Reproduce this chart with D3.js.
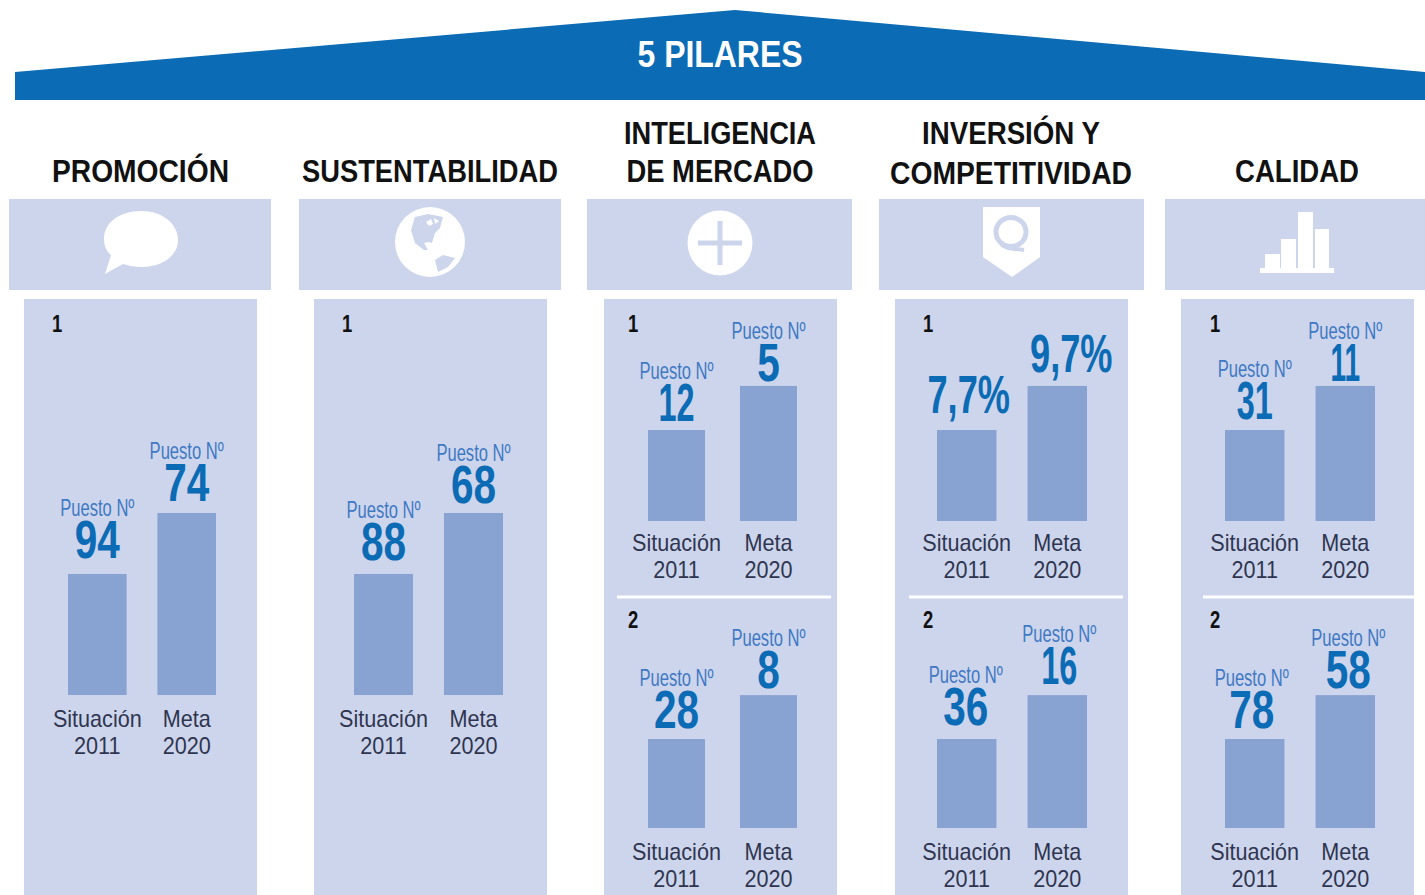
<!DOCTYPE html>
<html>
<head>
<meta charset="utf-8">
<script src="https://cdn.jsdelivr.net/npm/d3@7"></script>
<style>
  html, body { margin: 0; padding: 0; background: #fff; overflow: hidden; }
  svg { display: block; }
  text { font-family: "Liberation Sans", sans-serif; }
</style>
</head>
<body>
<div id="root"></div>
<script>
// data
const titulo = "5 PILARES";
const pilares = [["PROMOCIÓN"], ["SUSTENTABILIDAD"], ["INTELIGENCIA", "DE MERCADO"], ["INVERSIÓN Y", "COMPETITIVIDAD"], ["CALIDAD"]];
const categorias = [["Situación", "2011"], ["Meta", "2020"]];
const puestoLabel = "Puesto Nº";
const valores = [
  [["94", "74"]],
  [["88", "68"]],
  [["12", "5"], ["28", "8"]],
  [["7,7%", "9,7%"], ["36", "16"]],
  [["31", "11"], ["78", "58"]]
];
// bar heights, as % of the tallest bar
const alturas = [
  [[66.5, 100]],
  [[66.5, 100]],
  [[50, 74.2], [48.9, 73]],
  [[50, 74.2], [48.9, 73]],
  [[50, 74.2], [48.9, 73]]
];

// layout
var width = 1425, height = 895;
var azul = "#0b6bb5", panel = "#cdd5ec", barra = "#88a2d2", suave = "#3f79c4";

var headers = [[9, 271], [299, 561], [587, 852], [879, 1144], [1165, 1425]];
var panels = [[24, 257], [314, 547], [604, 837], [895, 1128], [1181, 1414]];
var barRange = [[68, 216], [354, 503], [648, 797], [937, 1087], [1225, 1375]];
var barPadding = [0.344, 0.344, 0.38, 0.344, 0.344];
var titleCx = [140.5, 430, 720, 1011, 1297];
var titleWidths = [[177], [256], [192, 187], [178, 242], [124]];
var baselines = [[695], [695], [521, 828], [521, 828], [521, 828]];
var numberX = [57, 347, 633, 928, 1215];
var numberY = [324, 620];
var dividers = [null, null, [617, 831], [909, 1123], [1203, 1414]];
// gap from value baseline to top of the bar, and nudges of the label centres
var gaps = [
  [[16, 12]],
  [[14, 10]],
  [[9, 5], [11, 7]],
  [[17, 14], [14, 11]],
  [[11, 5], [11, 7]]
];
var nudges = [
  [[0, 0]],
  [[0, 0]],
  [[0, 0], [0, 0]],
  [[2, 14], [-1, 2]],
  [[0, 0], [-3, 3]]
];

var svg = d3.select("#root")
  .append("svg")
  .attr("width", width)
  .attr("height", height);

// squeeze a text horizontally, there is no condensed font here
function fit(sel, w) {
  sel.attr("textLength", w).attr("lengthAdjust", "spacingAndGlyphs");
  return sel;
}
function squeeze(sel, ratio) {
  return fit(sel, sel.node().getComputedTextLength() * ratio);
}
// the 1s of the original font are very thin
function valueRatio(val) {
  if (val.indexOf("%") >= 0) return 0.67;
  if (val == "11") return 0.52;
  if (val.indexOf("1") >= 0) return 0.6;
  return 0.75;
}

// bars height scale
var y = d3.scaleLinear().domain([0, 100]).range([0, 182]);

// roof
svg.append("path")
  .attr("d", "M15,72 L735,10 L1425,72 L1425,100 L15,100 Z")
  .attr("fill", azul);
fit(svg.append("text")
  .attr("x", 720).attr("y", 67)
  .attr("text-anchor", "middle")
  .attr("font-size", 37).attr("font-weight", 700)
  .attr("fill", "#fff")
  .text(titulo), 165);

// header bands and panels
svg.append("g").selectAll("rect")
  .data(headers).enter().append("rect")
  .attr("x", d => d[0]).attr("y", 199)
  .attr("width", d => d[1] - d[0]).attr("height", 91)
  .attr("fill", panel);
svg.append("g").selectAll("rect")
  .data(panels).enter().append("rect")
  .attr("x", d => d[0]).attr("y", 299)
  .attr("width", d => d[1] - d[0]).attr("height", height - 299)
  .attr("fill", panel);

// pillar titles
pilares.forEach(function (lines, i) {
  lines.forEach(function (line, k) {
    var base = lines.length == 1 ? 182 : (k == 0 ? 144 : (i == 3 ? 184 : 182));
    fit(svg.append("text")
      .attr("x", titleCx[i]).attr("y", base)
      .attr("text-anchor", "middle")
      .attr("font-size", 31).attr("font-weight", 700)
      .attr("fill", "#111")
      .text(line), titleWidths[i][k]);
  });
});

// icons
var icons = svg.append("g");
// speech bubble
icons.append("path")
  .attr("fill", "#fff")
  .attr("d", "M141,211 C163,211 178,224 178,240 C178,256 162,267 142,267 C135,267 129,266 123,264 L105,274 L111,255 C106,251 104,245 104,239 C104,223 119,211 141,211 Z");
// globe
icons.append("ellipse")
  .attr("cx", 430).attr("cy", 242).attr("rx", 35).attr("ry", 35)
  .attr("fill", "#fff");
icons.append("path")
  .attr("fill", panel)
  .attr("d", "M415,217 L428,214 L443,217 L440,228 L435,233 L432,243 L428,242 L424,243 L428,250 L424,250 L415,243 L411,230 Z M435,260 L443,255 L455,258 L448,267 L438,272 Z");
icons.append("path")
  .attr("fill", "#fff")
  .attr("d", "M426,222 L431,219 L433,224 L429,226 Z M434,218 L439,221 L435,224 Z");
// plus
icons.append("circle")
  .attr("cx", 720).attr("cy", 243).attr("r", 32.5)
  .attr("fill", "#fff");
icons.append("path")
  .attr("stroke", panel).attr("stroke-width", 5).attr("fill", "none")
  .attr("d", "M698,243 H742 M720,221 V265");
// shield with Q
icons.append("path")
  .attr("fill", "#fff")
  .attr("d", "M983,207 H1040 V257 L1012,277 L983,257 Z");
icons.append("ellipse")
  .attr("cx", 1011).attr("cy", 232).attr("rx", 15).attr("ry", 14.5)
  .attr("fill", "none").attr("stroke", panel).attr("stroke-width", 5);
icons.append("path")
  .attr("fill", "none").attr("stroke", panel).attr("stroke-width", 4)
  .attr("d", "M1001,244 C1007,250 1015,248 1024,250");
// small bars
icons.append("path")
  .attr("fill", "#fff")
  .attr("d", "M1265,254 H1280 V268 H1265 Z M1281,239 H1296 V268 H1281 Z M1298,212 H1313 V268 H1298 Z M1315,229 H1329 V268 H1315 Z M1260,268 H1334 V273 H1260 Z");

// one small chart per pillar row
valores.forEach(function (rows, i) {
  var g = svg.append("g");
  var x = d3.scaleBand().domain([0, 1]).range(barRange[i]).paddingInner(barPadding[i]);

  rows.forEach(function (row, r) {
    var base = baselines[i][r];

    squeeze(g.append("text")
      .attr("x", numberX[i]).attr("y", numberY[r] + 8)
      .attr("text-anchor", "middle")
      .attr("font-size", 23).attr("font-weight", 700)
      .attr("fill", "#111")
      .text(r + 1), 0.8);

    // Add bars
    g.append("g").selectAll("rect")
      .data(alturas[i][r]).enter().append("rect")
      .attr("x", (d, k) => x(k))
      .attr("y", d => base - y(d))
      .attr("width", x.bandwidth())
      .attr("height", d => y(d))
      .attr("fill", barra);

    row.forEach(function (val, k) {
      var cx = x(k) + x.bandwidth() / 2 + nudges[i][r][k];
      var top = base - y(alturas[i][r][k]);
      var valBase = top - gaps[i][r][k];
      var esPct = val.indexOf("%") >= 0;

      squeeze(g.append("text")
        .attr("x", cx).attr("y", valBase)
        .attr("text-anchor", "middle")
        .attr("font-size", 54).attr("font-weight", 700)
        .attr("fill", azul)
        .text(val), valueRatio(val));

      if (!esPct) {
        squeeze(g.append("text")
          .attr("x", cx).attr("y", valBase - 42)
          .attr("text-anchor", "middle")
          .attr("font-size", 24)
          .attr("fill", suave)
          .text(puestoLabel), 0.69);
      }

      // category under the bar
      var off = r == 0 && rows.length == 2 ? 30 : 32;
      categorias[k].forEach(function (line, l) {
        squeeze(g.append("text")
          .attr("x", x(k) + x.bandwidth() / 2).attr("y", base + off + l * 27)
          .attr("text-anchor", "middle")
          .attr("font-size", 24)
          .attr("fill", "#2f3550")
          .text(line), 0.9);
      });
    });
  });

  if (dividers[i]) {
    g.append("line")
      .attr("x1", dividers[i][0]).attr("x2", dividers[i][1])
      .attr("y1", 597).attr("y2", 597)
      .attr("stroke", "#fff").attr("stroke-width", 3);
  }
});
</script>
</body>
</html>
